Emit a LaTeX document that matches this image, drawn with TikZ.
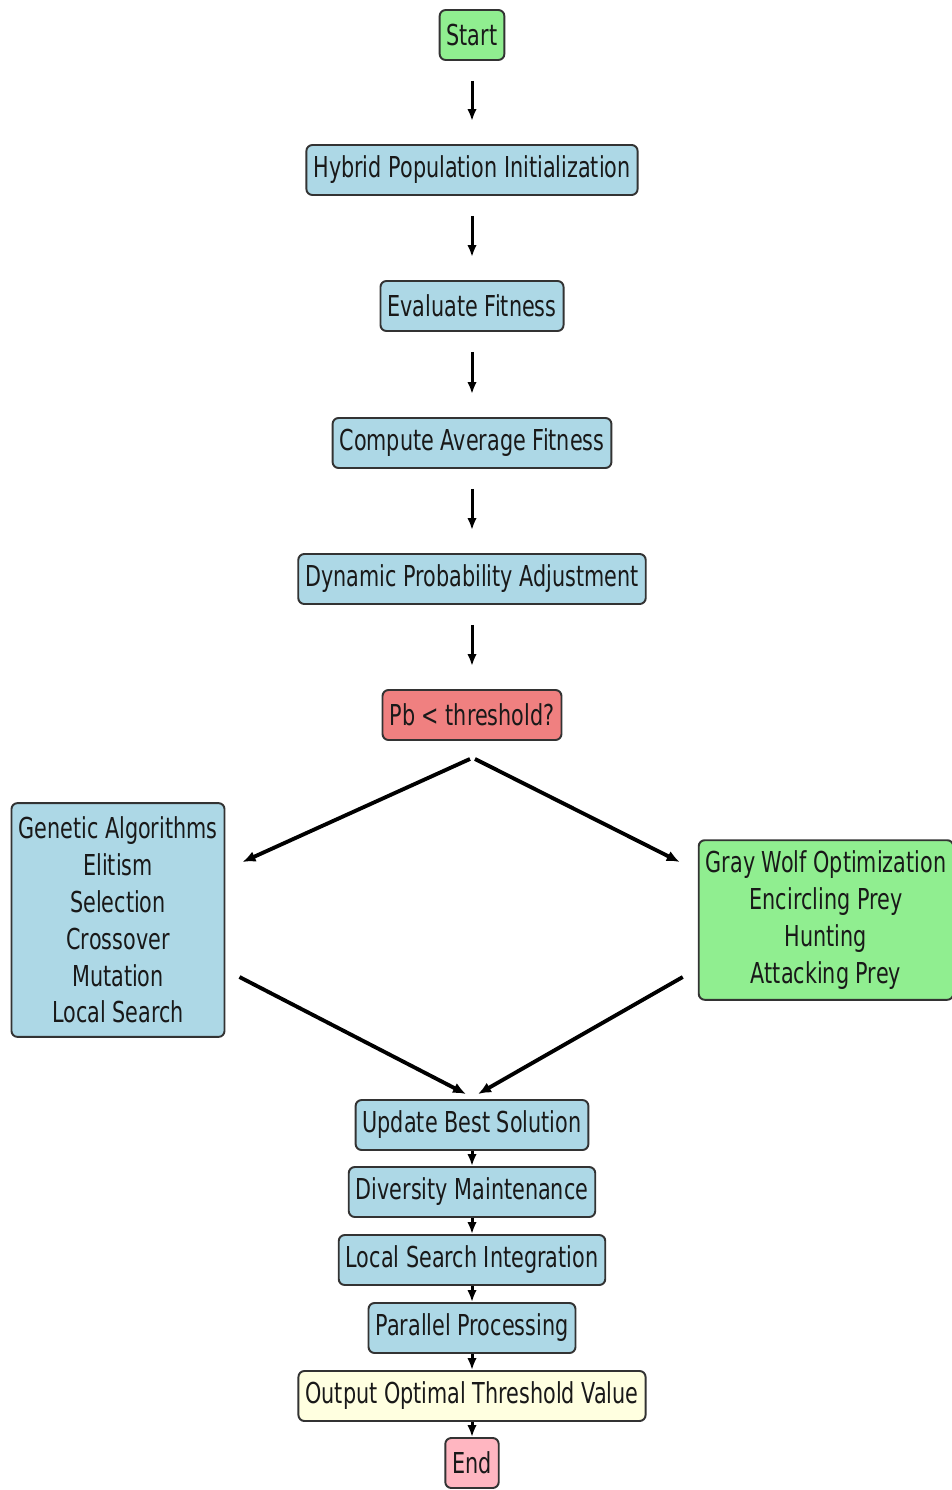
\documentclass[tikz,border=0pt]{standalone}
\usepackage{fontspec}
\setmainfont{DejaVu Sans}[FakeStretch=0.72]
\usetikzlibrary{arrows.meta}

\definecolor{boxblue}{HTML}{ADD8E6}
\definecolor{boxgreen}{HTML}{90EE90}
\definecolor{boxred}{HTML}{F08080}
\definecolor{boxyellow}{HTML}{FFFFE0}
\definecolor{boxpink}{HTML}{FFB6C1}
\definecolor{edgegray}{HTML}{333333}

\begin{document}
\begin{tikzpicture}[x=0.02cm, y=-0.02cm,
  every node/.style={font=\fontsize{16.4}{21}\selectfont, text=black!90},
  stage/.style={draw=edgegray, line width=1.1pt, rounded corners=0.12cm, inner xsep=0.14cm, inner ysep=0.15cm, minimum height=1cm, align=center},
  flow/.style={-{Latex[length=0.24cm,width=0.19cm]}, line width=1.7pt},
  branch/.style={-{Latex[length=0.26cm,width=0.22cm]}, line width=2.2pt}]
\useasboundingbox (0,0) rectangle (952,1490);
% main chain
\node[stage, fill=boxgreen] (start) at (472,35) {Start};
\node[stage, fill=boxblue] (hybrid) at (472,170) {Hybrid Population Initialization};
\node[stage, fill=boxblue] (evaluate) at (472,306) {Evaluate Fitness};
\node[stage, fill=boxblue] (average) at (472,443) {Compute Average Fitness};
\node[stage, fill=boxblue] (dynamic) at (472,579) {Dynamic Probability Adjustment};
\node[stage, fill=boxred] (decision) at (472,715) {Pb < threshold?};
% the two branches
\node[stage, fill=boxblue, inner ysep=0.27cm] (ga) at (118,920) {Genetic Algorithms\\Elitism\\Selection\\Crossover\\Mutation\\Local Search};
\node[stage, fill=boxgreen, inner ysep=0.21cm] (gwo) at (826,920) {Gray Wolf Optimization\\Encircling Prey\\Hunting\\Attacking Prey};
% after merging
\node[stage, fill=boxblue] (update) at (472,1125) {Update Best Solution};
\node[stage, fill=boxblue] (diversity) at (472,1192) {Diversity Maintenance};
\node[stage, fill=boxblue] (localsearch) at (472,1260) {Local Search Integration};
\node[stage, fill=boxblue] (parallel) at (472,1328) {Parallel Processing};
\node[stage, fill=boxyellow] (output) at (472,1396) {Output Optimal Threshold Value};
\node[stage, fill=boxpink] (finish) at (472,1463) {End};

\foreach \a/\b in {start/hybrid, hybrid/evaluate, evaluate/average, average/dynamic, dynamic/decision}
  \draw[flow, shorten <=0.4cm, shorten >=0.46cm] (\a) -- (\b);
\foreach \a/\b in {update/diversity, diversity/localsearch, localsearch/parallel, parallel/output, output/finish}
  \draw[flow] (\a) -- (\b);

\coordinate (decL) at ([xshift=-0.04cm,yshift=-0.36cm]decision.south);
\coordinate (decR) at ([xshift=0.06cm,yshift=-0.36cm]decision.south);
\coordinate (gaIn) at ([xshift=0.34cm,yshift=1.16cm]ga.east);
\coordinate (gaOut) at ([xshift=0.28cm,yshift=-1.14cm]ga.east);
\coordinate (gwoIn) at ([xshift=-0.36cm,yshift=1.16cm]gwo.west);
\coordinate (gwoOut) at ([xshift=-0.3cm,yshift=-1.14cm]gwo.west);
\coordinate (updL) at ([xshift=-0.12cm,yshift=0.1cm]update.north);
\coordinate (updR) at ([xshift=0.12cm,yshift=0.1cm]update.north);
\draw[branch] (decL) -- (gaIn);
\draw[branch] (decR) -- (gwoIn);
\draw[branch] (gaOut) -- (updL);
\draw[branch] (gwoOut) -- (updR);
\end{tikzpicture}
\end{document}
